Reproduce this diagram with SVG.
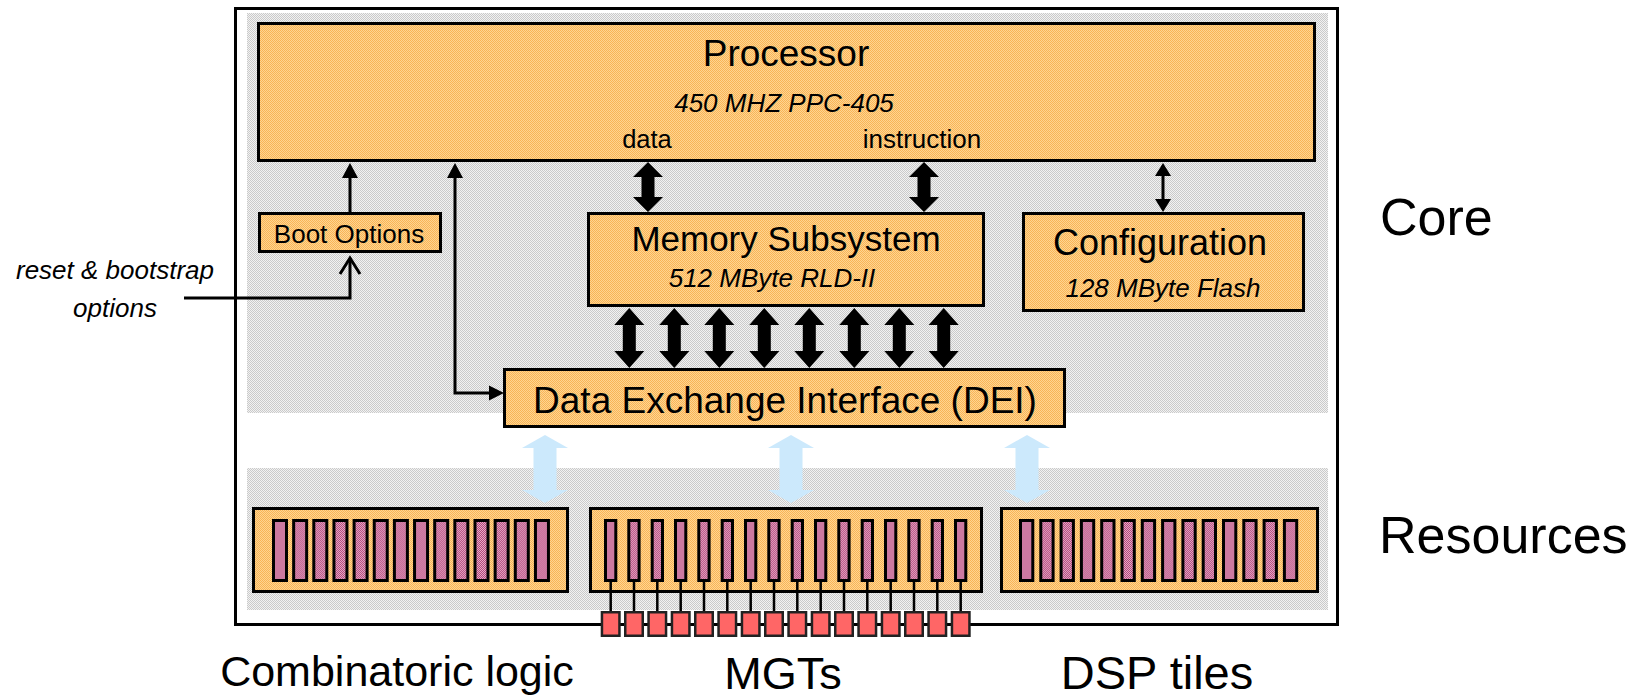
<svg xmlns="http://www.w3.org/2000/svg" xmlns:xlink="http://www.w3.org/1999/xlink" width="1643" height="698" viewBox="0 0 1643 698">
  <style>
    .t { font-family: "Liberation Sans", Arial, sans-serif; fill: #000; }
    .it { font-style: italic; }
    .mid { text-anchor: middle; }
    .box { fill: url(#orange); stroke: #000; stroke-width: 3; }
    .bar { fill: url(#magenta); stroke: #000; stroke-width: 3; }
    .mgt { fill: #FF6666; stroke: #222; stroke-width: 2.5; }
    .wire { fill: none; stroke: #000; stroke-width: 3; }
    .pin { stroke: #000; stroke-width: 2.5; }
    .bus { fill: #000; }
    .head { fill: #000; }
    .link { fill: #CCE9FC; }
  </style>
  <defs>
    <pattern id="orange" width="2" height="2" patternUnits="userSpaceOnUse">
      <rect width="2" height="2" fill="#FFD591"/>
      <rect width="1" height="1" fill="#F8B457"/>
      <rect x="1" y="1" width="1" height="1" fill="#F8B457"/>
    </pattern>
    <pattern id="grey" width="2" height="2" patternUnits="userSpaceOnUse">
      <rect width="2" height="2" fill="#F2F2F2"/>
      <rect width="1" height="1" fill="#CACACA"/>
      <rect x="1" y="1" width="1" height="1" fill="#CACACA"/>
    </pattern>
    <pattern id="magenta" width="2" height="2" patternUnits="userSpaceOnUse">
      <rect width="2" height="2" fill="#E8A8C6"/>
      <rect width="1" height="1" fill="#B04A7C"/>
      <rect x="1" y="1" width="1" height="1" fill="#B04A7C"/>
    </pattern>
    <!-- slice bars -->
    <rect id="cbar" x="0" y="520.5" width="13" height="60" class="bar"/>
    <rect id="mbar" x="0" y="520.5" width="10.3" height="60" class="bar"/>
    <rect id="dbar" x="0" y="520.5" width="12.3" height="60" class="bar"/>
    <!-- transceiver pad with its pin -->
    <g id="pad">
      <line x1="0" y1="582" x2="0" y2="611" class="pin"/>
      <rect x="-8.75" y="612.25" width="17.5" height="23.5" class="mgt"/>
    </g>
  </defs>

  <!-- FPGA outline and shaded regions -->
  <g id="fpga">
    <rect x="235.5" y="8.5" width="1102" height="616" fill="#fff" stroke="#000" stroke-width="3"/>
    <rect x="247" y="13" width="1081" height="400" fill="url(#grey)"/>
    <rect x="247" y="468" width="1081" height="142" fill="url(#grey)"/>
  </g>

  <g id="processor">
    <rect x="258.5" y="23.5" width="1056" height="137" class="box"/>
    <text x="786" y="66" class="t mid" font-size="37">Processor</text>
    <text x="784" y="112" class="t it mid" font-size="26">450 MHZ PPC-405</text>
    <text x="647" y="148" class="t mid" font-size="25.5">data</text>
    <text x="922" y="148" class="t mid" font-size="26">instruction</text>
  </g>

  <g id="boot-options">
    <rect x="259.5" y="213.5" width="181" height="38" class="box"/>
    <text x="349" y="243" class="t mid" font-size="26">Boot Options</text>
  </g>

  <g id="memory">
    <rect x="588.5" y="213.5" width="395" height="92" class="box"/>
    <text x="786" y="251" class="t mid" font-size="35">Memory Subsystem</text>
    <text x="772" y="287" class="t it mid" font-size="26">512 MByte RLD-II</text>
  </g>

  <g id="configuration">
    <rect x="1023.5" y="213.5" width="280" height="97" class="box"/>
    <text x="1160" y="255" class="t mid" font-size="36">Configuration</text>
    <text x="1163" y="297" class="t it mid" font-size="26">128 MByte Flash</text>
  </g>

  <g id="dei">
    <rect x="504.5" y="369.5" width="560" height="57" class="box"/>
    <text x="785" y="413" class="t mid" font-size="37">Data Exchange Interface (DEI)</text>
  </g>

  <g id="combinatoric-logic">
    <rect x="253.5" y="508.5" width="314" height="83" class="box"/>
    <use xlink:href="#cbar" x="273.5"/>
    <use xlink:href="#cbar" x="293.65"/>
    <use xlink:href="#cbar" x="313.8"/>
    <use xlink:href="#cbar" x="333.95"/>
    <use xlink:href="#cbar" x="354.1"/>
    <use xlink:href="#cbar" x="374.25"/>
    <use xlink:href="#cbar" x="394.4"/>
    <use xlink:href="#cbar" x="414.55"/>
    <use xlink:href="#cbar" x="434.7"/>
    <use xlink:href="#cbar" x="454.85"/>
    <use xlink:href="#cbar" x="475"/>
    <use xlink:href="#cbar" x="495.15"/>
    <use xlink:href="#cbar" x="515.3"/>
    <use xlink:href="#cbar" x="535.45"/>
    <text x="397" y="686" class="t mid" font-size="43">Combinatoric logic</text>
  </g>

  <g id="mgts">
    <rect x="590.5" y="508.5" width="391" height="83" class="box"/>
    <use xlink:href="#mbar" x="605.5"/>
    <use xlink:href="#mbar" x="628.8"/>
    <use xlink:href="#mbar" x="652.2"/>
    <use xlink:href="#mbar" x="675.5"/>
    <use xlink:href="#mbar" x="698.8"/>
    <use xlink:href="#mbar" x="722.2"/>
    <use xlink:href="#mbar" x="745.5"/>
    <use xlink:href="#mbar" x="768.8"/>
    <use xlink:href="#mbar" x="792.2"/>
    <use xlink:href="#mbar" x="815.5"/>
    <use xlink:href="#mbar" x="838.8"/>
    <use xlink:href="#mbar" x="862.2"/>
    <use xlink:href="#mbar" x="885.5"/>
    <use xlink:href="#mbar" x="908.8"/>
    <use xlink:href="#mbar" x="932.2"/>
    <use xlink:href="#mbar" x="955.5"/>
    <use xlink:href="#pad" x="610.7"/>
    <use xlink:href="#pad" x="634"/>
    <use xlink:href="#pad" x="657.3"/>
    <use xlink:href="#pad" x="680.7"/>
    <use xlink:href="#pad" x="704"/>
    <use xlink:href="#pad" x="727.3"/>
    <use xlink:href="#pad" x="750.7"/>
    <use xlink:href="#pad" x="774"/>
    <use xlink:href="#pad" x="797.3"/>
    <use xlink:href="#pad" x="820.7"/>
    <use xlink:href="#pad" x="844"/>
    <use xlink:href="#pad" x="867.3"/>
    <use xlink:href="#pad" x="890.7"/>
    <use xlink:href="#pad" x="914"/>
    <use xlink:href="#pad" x="937.3"/>
    <use xlink:href="#pad" x="960.7"/>
    <text x="783" y="689" class="t mid" font-size="45">MGTs</text>
  </g>

  <g id="dsp-tiles">
    <rect x="1001.5" y="508.5" width="316" height="83" class="box"/>
    <use xlink:href="#dbar" x="1020.5"/>
    <use xlink:href="#dbar" x="1040.8"/>
    <use xlink:href="#dbar" x="1061.1"/>
    <use xlink:href="#dbar" x="1081.4"/>
    <use xlink:href="#dbar" x="1101.7"/>
    <use xlink:href="#dbar" x="1122"/>
    <use xlink:href="#dbar" x="1142.3"/>
    <use xlink:href="#dbar" x="1162.6"/>
    <use xlink:href="#dbar" x="1182.9"/>
    <use xlink:href="#dbar" x="1203.2"/>
    <use xlink:href="#dbar" x="1223.5"/>
    <use xlink:href="#dbar" x="1243.8"/>
    <use xlink:href="#dbar" x="1264.1"/>
    <use xlink:href="#dbar" x="1284.4"/>
    <text x="1157" y="689" class="t mid" font-size="47">DSP tiles</text>
  </g>

  <g id="labels">
    <text x="1380" y="235" class="t" font-size="52">Core</text>
    <text x="1379" y="553" class="t" font-size="52">Resources</text>
    <text x="115" y="279" class="t it mid" font-size="26">reset &amp; bootstrap</text>
    <text x="115" y="317" class="t it mid" font-size="26">options</text>
  </g>

  <g id="connectors">
    <!-- processor buses -->
    <polygon class="bus" points="648,162 663,177 654.5,177 654.5,197 663,197 648,212 633,197 641.5,197 641.5,177 633,177"/>
    <polygon class="bus" points="924,162 939,177 930.5,177 930.5,197 939,197 924,212 909,197 917.5,197 917.5,177 909,177"/>
    <!-- memory to DEI buses -->
    <g id="mem-buses">
      <polygon class="bus" points="629.3,308 644.3,325 635.8,325 635.8,351 644.3,351 629.3,368 614.3,351 622.8,351 622.8,325 614.3,325"/>
      <polygon class="bus" points="674.3,308 689.3,325 680.8,325 680.8,351 689.3,351 674.3,368 659.3,351 667.8,351 667.8,325 659.3,325"/>
      <polygon class="bus" points="719.3,308 734.3,325 725.8,325 725.8,351 734.3,351 719.3,368 704.3,351 712.8,351 712.8,325 704.3,325"/>
      <polygon class="bus" points="764.3,308 779.3,325 770.8,325 770.8,351 779.3,351 764.3,368 749.3,351 757.8,351 757.8,325 749.3,325"/>
      <polygon class="bus" points="809.3,308 824.3,325 815.8,325 815.8,351 824.3,351 809.3,368 794.3,351 802.8,351 802.8,325 794.3,325"/>
      <polygon class="bus" points="854.3,308 869.3,325 860.8,325 860.8,351 869.3,351 854.3,368 839.3,351 847.8,351 847.8,325 839.3,325"/>
      <polygon class="bus" points="899.3,308 914.3,325 905.8,325 905.8,351 914.3,351 899.3,368 884.3,351 892.8,351 892.8,325 884.3,325"/>
      <polygon class="bus" points="943.7,308 958.7,325 950.2,325 950.2,351 958.7,351 943.7,368 928.7,351 937.2,351 937.2,325 928.7,325"/>
    </g>
    <!-- boot options to processor -->
    <line class="wire" x1="350" y1="212" x2="350" y2="176"/>
    <polygon class="head" points="350,163 342,178 358,178"/>
    <!-- processor to DEI -->
    <polyline class="wire" points="455,176 455,393 491,393"/>
    <polygon class="head" points="455,163 447,178 463,178"/>
    <polygon class="head" points="504,393 489,385.5 489,400.5"/>
    <!-- processor to configuration -->
    <line class="wire" x1="1163" y1="174" x2="1163" y2="200"/>
    <polygon class="head" points="1163,163 1155,176 1171,176"/>
    <polygon class="head" points="1163,212 1155,199 1171,199"/>
    <!-- external reset input -->
    <polyline class="wire" points="184,298 350,298 350,258"/>
    <polyline class="wire" points="340,274 350,258 360,274"/>
    <!-- DEI to resources links -->
    <polygon class="link" points="545,435 568,448 556.5,448 556.5,490 568,490 545,503 522,490 533.5,490 533.5,448 522,448"/>
    <polygon class="link" points="791,435 814,448 802.5,448 802.5,490 814,490 791,503 768,490 779.5,490 779.5,448 768,448"/>
    <polygon class="link" points="1027,435 1050,448 1038.5,448 1038.5,490 1050,490 1027,503 1004,490 1015.5,490 1015.5,448 1004,448"/>
  </g>
</svg>
